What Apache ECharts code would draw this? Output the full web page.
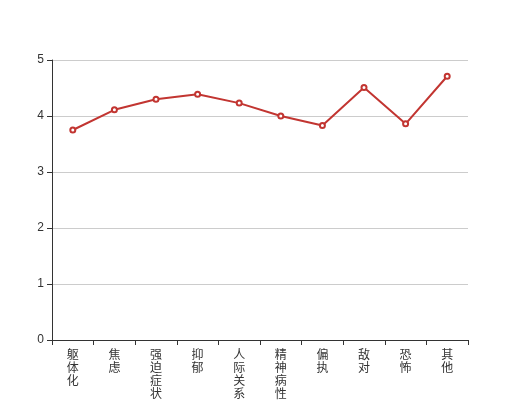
<!DOCTYPE html>
<html>
<head>
<meta charset="utf-8">
<script src="https://cdn.jsdelivr.net/npm/echarts@6/dist/echarts.min.js"></script>
<style>html,body{margin:0;padding:0;background:#fff}#c{width:520px;height:400px}</style>
</head>
<body>
<div id="c"></div>
<script>
const categories = ['躯体化','焦虑','强迫症状','抑郁','人际关系敏感','精神病性','偏执','敌对','恐怖','其他'];
const values = [3.75, 4.11, 4.30, 4.39, 4.23, 4.00, 3.83, 4.51, 3.86, 4.71];
const yTicks = {min: 0, max: 5, interval: 1};

const chart = echarts.init(document.getElementById('c'));
chart.setOption({
  animation: false,
  grid: {left: 52, right: 52, top: 60, bottom: 60, containLabel: false, outerBoundsMode: 'none'},
  xAxis: {
    type: 'category',
    data: categories,
    axisLine: {lineStyle: {color: '#333'}},
    axisTick: {show: true, alignWithLabel: false, lineStyle: {color: '#333'}},
    axisLabel: {
      interval: 0, color: '#333', fontSize: 12, lineHeight: 13,
      fontFamily: 'Noto Sans CJK SC',
      formatter: v => v.split('').join('\n')
    }
  },
  yAxis: {
    type: 'value',
    min: yTicks.min, max: yTicks.max, interval: yTicks.interval,
    axisLine: {show: true, lineStyle: {color: '#333'}},
    axisTick: {show: true, lineStyle: {color: '#333'}},
    axisLabel: {color: '#333', fontSize: 12},
    splitLine: {lineStyle: {color: '#ccc'}}
  },
  series: [{
    type: 'line',
    data: values,
    symbol: 'emptyCircle',
    symbolSize: 5,
    itemStyle: {color: '#c23531'},
    lineStyle: {color: '#c23531', width: 2}
  }]
});
</script>
</body>
</html>
